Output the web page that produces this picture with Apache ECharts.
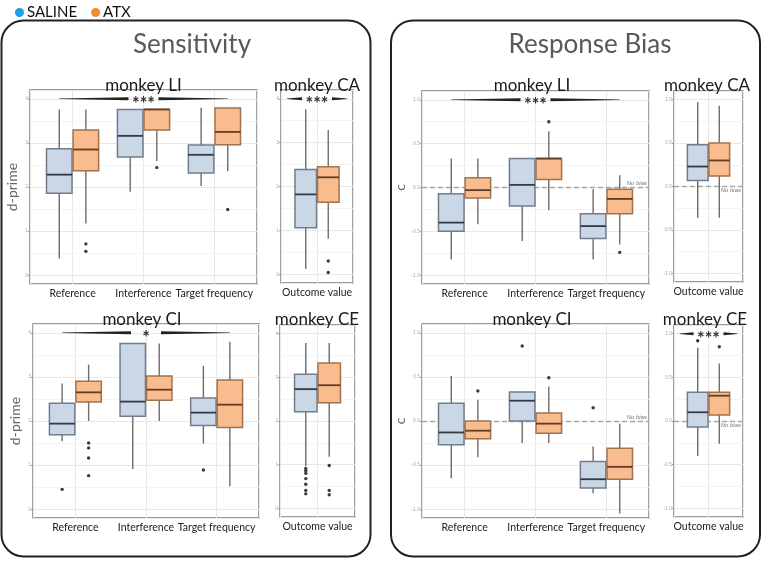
<!DOCTYPE html>
<html><head><meta charset="utf-8">
<script src="https://cdn.jsdelivr.net/npm/echarts@6/dist/echarts.min.js"></script>
<style>html,body{margin:0;padding:0;background:#fff}#c{width:763px;height:561px}</style>
</head><body><div id="c"></div>
<script>
// ---------- DATA ----------
const categories3 = ['Reference', 'Interference', 'Target frequency'];
const categories1 = ['Outcome value'];
const groups = ['SALINE', 'ATX'];
const sensTicksMinor = [0.5, 1.5, 2.5, 3.5];
const biasTicksMinor = [-0.75, -0.25, 0.25, 0.75];

// boxes: [lower whisker, Q1, median, Q3, upper whisker]; outliers: [category index, value]
// Sensitivity (d-prime)
const sensLI_saline = [[0.38, 1.86, 2.28, 2.87, 3.76], [1.89, 2.68, 3.16, 3.76, 3.76], [2.02, 2.32, 2.73, 2.95, 3.80]];
const sensLI_atx    = [[1.17, 2.37, 2.85, 3.29, 3.76], [2.59, 3.29, 3.76, 3.76, 3.76], [2.36, 2.96, 3.25, 3.79, 3.79]];
const sensLI_salineOut = [];
const sensLI_atxOut    = [[0, 0.71], [0, 0.54], [1, 2.44], [2, 1.49]];
const sensLI_annot = [[0.8125, 3.1875, 4.0]];
const sensLI_label = '***';

const sensCA_saline = [[0.12, 1.06, 1.82, 2.39, 3.76]];
const sensCA_atx    = [[0.81, 1.64, 2.21, 2.45, 3.29]];
const sensCA_salineOut = [];
const sensCA_atxOut    = [[0, 0.30], [0, 0.04]];
const sensCA_annot = [[0.5, 1.5, 4.0]];
const sensCA_label = '***';

const sensCI_saline = [[1.54, 1.69, 1.94, 2.40, 2.85], [0.91, 2.11, 2.44, 3.76, 3.76], [1.49, 1.90, 2.19, 2.52, 3.25]];
const sensCI_atx    = [[2.00, 2.43, 2.65, 2.90, 3.28], [2.00, 2.47, 2.71, 3.02, 3.76], [0.52, 1.85, 2.37, 2.93, 3.80]];
const sensCI_salineOut = [[0, 0.45], [2, 0.89]];
const sensCI_atxOut    = [[0, 1.50], [0, 1.39], [0, 1.16], [0, 0.76]];
const sensCI_annot = [[0.8125, 3.1875, 4.0]];
const sensCI_label = '*';

const sensCE_saline = [[0.97, 2.21, 2.73, 3.07, 3.79]];
const sensCE_atx    = [[1.18, 2.42, 2.82, 3.33, 3.79]];
const sensCE_salineOut = [[0, 0.91], [0, 0.86], [0, 0.80], [0, 0.68], [0, 0.55], [0, 0.41], [0, 0.33]];
const sensCE_atxOut    = [[0, 0.98], [0, 0.41], [0, 0.31]];
const sensCE_annot = [];
const sensCE_label = '';

// Response bias (c)
const biasLI_saline = [[-0.82, -0.50, -0.40, -0.07, 0.33], [-0.61, -0.21, 0.03, 0.33, 0.33], [-0.82, -0.58, -0.44, -0.30, -0.02]];
const biasLI_atx    = [[-0.42, -0.12, -0.03, 0.11, 0.33], [-0.26, 0.09, 0.33, 0.33, 0.64], [-0.65, -0.30, -0.13, -0.02, 0.14]];
const biasLI_salineOut = [];
const biasLI_atxOut    = [[1, 0.75], [2, -0.74]];
const biasLI_annot = [[0.8125, 3.1875, 1.0]];
const biasLI_label = '***';

const biasCA_saline = [[-0.36, 0.07, 0.23, 0.48, 0.97]];
const biasCA_atx    = [[-0.36, 0.12, 0.30, 0.50, 0.93]];
const biasCA_salineOut = [];
const biasCA_atxOut    = [];
const biasCA_annot = [];
const biasCA_label = '';

const biasCI_saline = [[-0.65, -0.27, -0.13, 0.20, 0.51], [-0.25, 0.00, 0.23, 0.33, 0.33], [-0.82, -0.76, -0.66, -0.46, -0.29]];
const biasCI_atx    = [[-0.41, -0.20, -0.11, 0.00, 0.24], [-0.25, -0.14, -0.03, 0.09, 0.39], [-1.05, -0.66, -0.52, -0.31, -0.03]];
const biasCI_salineOut = [[1, 0.85], [2, 0.15]];
const biasCI_atxOut    = [[0, 0.34], [1, 0.49]];
const biasCI_annot = [];
const biasCI_label = '';

const biasCE_saline = [[-0.40, -0.07, 0.10, 0.33, 0.84]];
const biasCE_atx    = [[-0.26, 0.07, 0.29, 0.33, 0.66]];
const biasCE_salineOut = [[0, 0.92]];
const biasCE_atxOut    = [[0, 0.85]];
const biasCE_annot = [[0.5, 1.5, 1.0]];
const biasCE_label = '***';

// ---------- STYLE / LAYOUT ----------
const FONT = 'Lato, "Open Sans", sans-serif';
const BOX_WIDTH = 0.36, BOX_OFFSET = 0.1875;
const styles = {
  SALINE: {fill: '#c9d7e6', stroke: '#727d8b', whisker: '#6a6a6a', median: '#353b44', dot: '#3a3a3a', legend: '#1ea0e6'},
  ATX:    {fill: '#f9bc8e', stroke: '#a0734f', whisker: '#6e6e6e', median: '#633e25', dot: '#3a3a3a', legend: '#f28c32'}
};
const panels = [
  {g: {left: 30, top: 90, width: 227, height: 194}, cats: categories3, kind: 'sens', yName: 'd-prime', title: 'monkey LI', tp: [143.5, 86],
   s: sensLI_saline, a: sensLI_atx, so: sensLI_salineOut, ao: sensLI_atxOut, an: sensLI_annot, al: sensLI_label},
  {g: {left: 281, top: 90, width: 72, height: 193}, cats: categories1, kind: 'sens', yName: '', title: 'monkey CA', tp: [317, 86],
   s: sensCA_saline, a: sensCA_atx, so: sensCA_salineOut, ao: sensCA_atxOut, an: sensCA_annot, al: sensCA_label},
  {g: {left: 33, top: 324, width: 226, height: 194}, cats: categories3, kind: 'sens', yName: 'd-prime', title: 'monkey CI', tp: [142, 320],
   s: sensCI_saline, a: sensCI_atx, so: sensCI_salineOut, ao: sensCI_atxOut, an: sensCI_annot, al: sensCI_label},
  {g: {left: 280, top: 325, width: 75, height: 192}, cats: categories1, kind: 'sens', yName: '', title: 'monkey CE', tp: [317, 320],
   s: sensCE_saline, a: sensCE_atx, so: sensCE_salineOut, ao: sensCE_atxOut, an: sensCE_annot, al: sensCE_label},
  {g: {left: 422, top: 91, width: 227, height: 193}, cats: categories3, kind: 'bias', yName: 'c', title: 'monkey LI', tp: [532, 86], nb: 'insideEndTop',
   s: biasLI_saline, a: biasLI_atx, so: biasLI_salineOut, ao: biasLI_atxOut, an: biasLI_annot, al: biasLI_label},
  {g: {left: 674, top: 91, width: 69, height: 191}, cats: categories1, kind: 'bias', yName: '', title: 'monkey CA', tp: [707, 86], nb: 'insideEndBottom',
   s: biasCA_saline, a: biasCA_atx, so: biasCA_salineOut, ao: biasCA_atxOut, an: biasCA_annot, al: biasCA_label},
  {g: {left: 422, top: 324, width: 227, height: 194}, cats: categories3, kind: 'bias', yName: 'c', title: 'monkey CI', tp: [532, 320], nb: 'insideEndTop',
   s: biasCI_saline, a: biasCI_atx, so: biasCI_salineOut, ao: biasCI_atxOut, an: biasCI_annot, al: biasCI_label},
  {g: {left: 674, top: 325, width: 69, height: 192}, cats: categories1, kind: 'bias', yName: '', title: 'monkey CE', tp: [705, 320], nb: 'insideEndBottom',
   s: biasCE_saline, a: biasCE_atx, so: biasCE_salineOut, ao: biasCE_atxOut, an: biasCE_annot, al: biasCE_label}
];

function boxRenderer(sign, st) {
  return function (params, api) {
    const x = api.value(0);
    const unit = api.size([1, 0])[0];
    const cx = api.coord([x, 0])[0] + sign * BOX_OFFSET * unit;
    const hw = BOX_WIDTH * unit / 2;
    const y = [1, 2, 3, 4, 5].map(d => api.coord([x, api.value(d)])[1]);
    return {type: 'group', children: [
      {type: 'line', shape: {x1: cx, y1: y[4], x2: cx, y2: y[3]}, style: {stroke: st.whisker, lineWidth: 1.4}},
      {type: 'line', shape: {x1: cx, y1: y[1], x2: cx, y2: y[0]}, style: {stroke: st.whisker, lineWidth: 1.4}},
      {type: 'rect', shape: {x: cx - hw, y: y[3], width: 2 * hw, height: y[1] - y[3]}, style: {fill: st.fill, stroke: st.stroke, lineWidth: 1.5}},
      {type: 'line', shape: {x1: cx - hw, y1: y[2], x2: cx + hw, y2: y[2]}, style: {stroke: st.median, lineWidth: 1.8}}
    ]};
  };
}
function outRenderer(sign, st) {
  return function (params, api) {
    const x = api.value(0);
    const unit = api.size([1, 0])[0];
    const p = api.coord([x, api.value(1)]);
    return {type: 'circle', shape: {cx: p[0] + sign * BOX_OFFSET * unit, cy: p[1], r: 1.7}, style: {fill: st.dot}};
  };
}
function annotRenderer(label) {
  return function (params, api) {
    const p1 = api.coord([api.value(0), api.value(2)]);
    const p2 = api.coord([api.value(1), api.value(2)]);
    const mid = (p1[0] + p2[0]) / 2, yy = p1[1], gap = 15;
    const taper = (xa, xb, ta, tb) => ({type: 'polygon', shape: {points: [[xa, yy - ta / 2], [xb, yy - tb / 2], [xb, yy + tb / 2], [xa, yy + ta / 2]]}, style: {fill: '#222'}});
    return {type: 'group', children: [
      taper(p1[0], mid - gap, 0.5, 3),
      taper(mid + gap, p2[0], 3, 0.5),
      {type: 'text', style: {text: label, x: mid, y: yy + 5, align: 'center', verticalAlign: 'middle', textAlign: 'center', textVerticalAlign: 'middle', font: 'bold 18px ' + FONT, fill: '#333'}}
    ]};
  };
}

const grid = [], xAxis = [], yAxis = [], series = [];
const graphic = [
  {type: 'rect', shape: {x: 1.5, y: 20.5, width: 369, height: 536, r: 22}, style: {fill: 'none', stroke: '#222', lineWidth: 2}},
  {type: 'rect', shape: {x: 391, y: 20.5, width: 369, height: 536, r: 22}, style: {fill: 'none', stroke: '#222', lineWidth: 2}},
  {type: 'text', x: 192, y: 45, style: {text: 'Sensitivity', font: '26px ' + FONT, fill: '#58595b', align: 'center', verticalAlign: 'middle'}},
  {type: 'text', x: 590, y: 45, style: {text: 'Response Bias', font: '26px ' + FONT, fill: '#58595b', align: 'center', verticalAlign: 'middle'}}
];

panels.forEach((p, i) => {
  const n = p.cats.length;
  const sens = p.kind === 'sens';
  grid.push(Object.assign({show: true, borderColor: '#7a7a7a', borderWidth: 1.4, backgroundColor: '#fff'}, p.g));
  xAxis.push({
    type: 'value', gridIndex: i, min: 0.4, max: n + 0.6, splitNumber: n === 3 ? 3 : 1,
    axisLine: {show: false}, axisTick: {show: false},
    splitLine: {show: true, lineStyle: {color: '#e8e8e8', width: 1}},
    axisLabel: {margin: 4, fontSize: 10.5, fontFamily: FONT, color: '#222', showMinLabel: false, showMaxLabel: false,
      formatter: v => (Number.isInteger(v) && v >= 1 && v <= n) ? p.cats[v - 1] : ''}
  });
  yAxis.push({
    type: 'value', gridIndex: i, min: sens ? -0.2 : -1.1, max: sens ? 4.2 : 1.1,
    name: p.yName, nameLocation: 'middle', nameGap: sens ? 11 : 14,
    nameTextStyle: {fontSize: 14, fontFamily: FONT, color: '#666'},
    axisLine: {show: false}, axisTick: {show: true, length: 2, lineStyle: {color: '#999'}},
    axisLabel: {fontSize: 5, color: '#aaa', margin: 2, showMinLabel: false, showMaxLabel: false,
      formatter: v => sens ? String(v) : v.toFixed(1)},
    splitLine: {show: true, lineStyle: {color: '#e8e8e8', width: 1}}
  });
  graphic.push({type: 'text', x: p.tp[0], y: p.tp[1], z: 100, style: {text: p.title, font: '17px ' + FONT, fill: '#1a1a1a', align: 'center', verticalAlign: 'middle'}});

  const mlData = (sens ? sensTicksMinor : biasTicksMinor).map(v => ({yAxis: v, lineStyle: {color: '#f1f1f1', width: 0.8, type: 'solid'}, label: {show: false}}));
  if (!sens) mlData.push({yAxis: 0, lineStyle: {color: '#a8a8a8', width: 1.4, type: [5, 3]},
    label: {show: true, formatter: 'No bias', position: p.nb, distance: [2, 1], fontSize: 6, fontStyle: 'italic', color: '#777'}});
  series.push({type: 'scatter', xAxisIndex: i, yAxisIndex: i, data: [], silent: true, z: 1,
    markLine: {silent: true, symbol: 'none', animation: false, z: 1, data: mlData}});

  [[p.s, p.so, -1, 'SALINE'], [p.a, p.ao, 1, 'ATX']].forEach(([boxes, outs, sign, name]) => {
    const st = styles[name];
    series.push({type: 'custom', name: name, xAxisIndex: i, yAxisIndex: i, z: 10, silent: true,
      itemStyle: {color: st.legend},
      encode: {x: 0, y: [1, 2, 3, 4, 5]},
      data: boxes.map((b, k) => [k + 1].concat(b)), renderItem: boxRenderer(sign, st)});
    series.push({type: 'custom', xAxisIndex: i, yAxisIndex: i, z: 11, silent: true,
      encode: {x: 0, y: 1},
      data: outs.map(o => [o[0] + 1, o[1]]), renderItem: outRenderer(sign, st)});
  });
  if (p.an.length) {
    series.push({type: 'custom', xAxisIndex: i, yAxisIndex: i, z: 12, silent: true, clip: false,
      encode: {x: [0, 1], y: 2}, data: p.an, renderItem: annotRenderer(p.al)});
  }
});

const chart = echarts.init(document.getElementById('c'), null, {renderer: 'canvas'});
chart.setOption({
  animation: false,
  backgroundColor: '#fff',
  legend: {left: 10, top: 0, icon: 'circle', itemWidth: 9, itemHeight: 9, itemGap: 14, selectedMode: false,
    textStyle: {fontSize: 15, fontFamily: FONT, color: '#111', padding: [0, 0, 0, -2]},
    data: groups.map(g => ({name: g, itemStyle: {color: styles[g].legend}}))},
  grid, xAxis, yAxis, series, graphic
});
</script></body></html>
